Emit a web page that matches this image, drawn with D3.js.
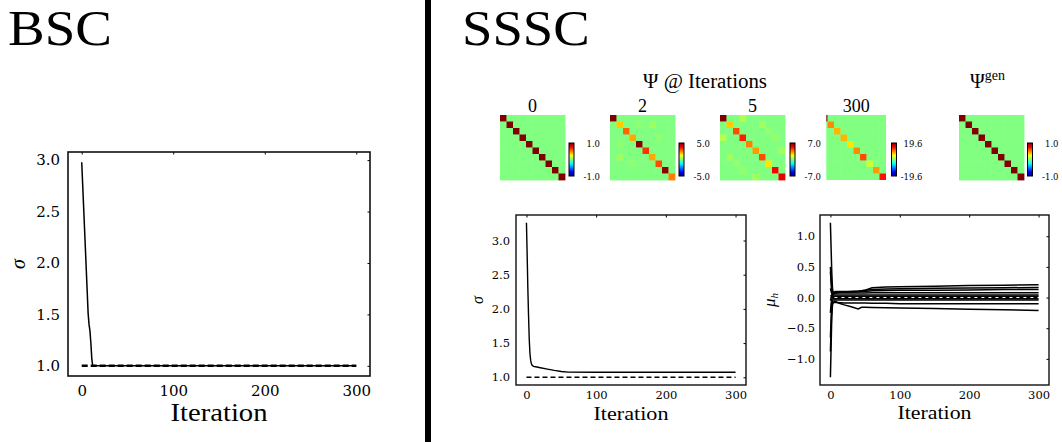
<!DOCTYPE html>
<html><head><meta charset="utf-8">
<script src="https://cdn.jsdelivr.net/npm/d3@7"></script>
<style>
html,body{margin:0;padding:0;background:#fff;}
svg{display:block;}
</style></head><body>
<svg id="c" width="1062" height="442"></svg>
<script>
// ---------------- DATA ----------------
const xTicks = [0, 100, 200, 300];
const sigmaTicks = [1.0, 1.5, 2.0, 2.5, 3.0];
const muTicks = [-1.0, -0.5, 0.0, 0.5, 1.0];
const trueSigma = 1.0;
const trueMu = 0.0;

const bscIter  = [0,1,2,3,4,5,6,7,8,9,10,11,12,50,100,150,200,250,300];
const bscSigma = [2.98,2.77,2.56,2.35,2.14,1.93,1.72,1.51,1.40,1.34,1.22,1.07,1.0,1.0,1.0,1.0,1.0,1.0,1.0];

const ssscIter  = [0,1,2,3,4,5,6,7,8,10,15,20,30,40,50,60,100,150,200,250,300];
const ssscSigma = [3.26,2.8,2.3,1.9,1.56,1.35,1.25,1.2,1.18,1.16,1.15,1.14,1.12,1.10,1.085,1.075,1.073,1.073,1.073,1.073,1.073];

const muIter = [0,1,2,3,4,5,7,10,15,20,30,40,45,50,60,80,100,150,200,250,300];
const mu1  = [1.22,0.80,0.40,0.15,0.08,0.06,0.07,0.08,0.09,0.09,0.10,0.10,0.11,0.12,0.16,0.17,0.175,0.185,0.195,0.20,0.21];
const mu2  = [0.50,0.30,0.12,0.05,0.07,0.09,0.10,0.10,0.10,0.10,0.10,0.105,0.11,0.12,0.13,0.14,0.145,0.15,0.155,0.16,0.165];
const mu3  = [0.42,0.25,0.10,0.04,0.05,0.07,0.08,0.09,0.09,0.09,0.09,0.095,0.10,0.10,0.11,0.115,0.12,0.12,0.125,0.13,0.13];
const mu4  = [0.15,0.10,0.06,0.06,0.07,0.07,0.07,0.075,0.075,0.075,0.075,0.075,0.075,0.076,0.077,0.078,0.078,0.079,0.08,0.08,0.08];
const mu5  = [0.02,0.03,0.04,0.04,0.04,0.04,0.04,0.04,0.04,0.04,0.04,0.04,0.04,0.04,0.04,0.04,0.04,0.04,0.04,0.04,0.04];
const mu6  = [-0.05,-0.01,0.02,0.02,0.02,0.02,0.02,0.02,0.02,0.02,0.02,0.02,0.02,0.02,0.02,0.02,0.02,0.02,0.02,0.02,0.02];
const mu7  = [-0.25,-0.10,-0.03,-0.02,-0.02,-0.02,-0.02,-0.02,-0.02,-0.02,-0.02,-0.02,-0.02,-0.02,-0.02,-0.02,-0.02,-0.02,-0.02,-0.02,-0.02];
const mu8  = [-0.65,-0.35,-0.10,-0.05,-0.04,-0.04,-0.04,-0.04,-0.04,-0.04,-0.04,-0.04,-0.04,-0.04,-0.04,-0.04,-0.04,-0.04,-0.04,-0.04,-0.04];
const mu9  = [-0.88,-0.50,-0.20,-0.10,-0.08,-0.08,-0.08,-0.08,-0.085,-0.09,-0.09,-0.09,-0.09,-0.09,-0.095,-0.095,-0.10,-0.10,-0.10,-0.10,-0.10];
const mu10 = [-1.30,-0.80,-0.30,-0.12,-0.08,-0.07,-0.06,-0.08,-0.10,-0.12,-0.15,-0.185,-0.16,-0.16,-0.162,-0.165,-0.17,-0.18,-0.19,-0.20,-0.21];
const muSeries = [mu1, mu2, mu3, mu4, mu5, mu6, mu7, mu8, mu9, mu10];

const hmTitles = ["0", "2", "5", "300"];
const cbMax = [1.0, 5.0, 7.0, 19.6, 1.0];
const psi0Diag   = [1,1,1,1,1,1,1,1,1,1];
const psi2Diag   = [5.0,1.75,2.75,2.1,4.9,3.25,2.1,3.0,4.8,2.5];
const psi2Off    = [[1,6,0.3],[4,1,0.15],[3,7,0.15]];
const psi5Diag   = [7.0,2.45,4.2,4.9,3.5,3.15,4.2,2.1,5.25,5.6];
const psi5Off    = [[0,3,0.75],[1,6,0.45],[5,9,0.45],[2,7,0.25],[3,8,0.3]];
const psi300Diag = [19.6,9.4,7.8,7.8,5.9,9.4,11.8,2.9,8.8,14.1];
const psiGenDiag = [1,1,1,1,1,1,1,1,1,1];

// ---------------- DRAW ----------------
const svg = d3.select("#c");
const SERIF = "Liberation Serif";
const TICKF = "DejaVu Serif";

svg.append("rect").attr("x",425).attr("y",0).attr("width",6).attr("height",442).attr("fill","#000");

svg.append("text").attr("transform","translate(8,45) scale(1.1,1)").attr("font-family",SERIF).attr("font-size",50)
  .text("BSC");
svg.append("text").attr("transform","translate(462,45) scale(1.094,1)").attr("font-family",SERIF).attr("font-size",50)
  .text("SSSC");

function pad(ext){ const r = ext[1]-ext[0]; return [ext[0]-0.05*r, ext[1]+0.05*r]; }

function panel(cfg){
  const g = svg.append("g");
  const x = d3.scaleLinear().domain(pad([0,300])).range([cfg.x0, cfg.x1]);
  const y = d3.scaleLinear().domain(pad(cfg.yext)).range([cfg.y1, cfg.y0]);
  const ax = g.append("g").attr("transform",`translate(0,${cfg.y1})`)
    .call(d3.axisBottom(x).tickValues(xTicks).tickSize(0).tickPadding(cfg.xpad).tickFormat(d3.format("d")));
  ax.select(".domain").remove();
  ax.selectAll("text").attr("font-family",TICKF).attr("font-size",cfg.fs).attr("fill","#000");
  const ay = g.append("g").attr("transform",`translate(${cfg.x0},0)`)
    .call(d3.axisLeft(y).tickValues(cfg.yticks).tickSize(0).tickPadding(cfg.ypad).tickFormat(d3.format(".1f")));
  ay.select(".domain").remove();
  ay.selectAll("text").attr("font-family",TICKF).attr("font-size",cfg.fs).attr("fill","#000");
  const at = g.append("g").attr("transform",`translate(0,${cfg.y0})`)
    .call(d3.axisTop(x).tickValues(xTicks).tickSize(-2.5).tickFormat(""));
  at.select(".domain").remove();
  at.selectAll("line").attr("stroke","#000");
  const ar = g.append("g").attr("transform",`translate(${cfg.x1},0)`)
    .call(d3.axisRight(y).tickValues(cfg.yticks).tickSize(-2.5).tickFormat(""));
  ar.select(".domain").remove();
  ar.selectAll("line").attr("stroke","#000");
  g.append("rect").attr("x",cfg.x0).attr("y",cfg.y0).attr("width",cfg.x1-cfg.x0).attr("height",cfg.y1-cfg.y0)
    .attr("fill","none").attr("stroke","#111").attr("stroke-width",cfg.frameW);
  g.append("text").attr("x",(cfg.x0+cfg.x1)/2).attr("y",cfg.xlabY).attr("text-anchor","middle")
    .attr("font-family",SERIF).attr("font-size",cfg.xlabFs).attr("textLength",cfg.xlabW).attr("lengthAdjust","spacingAndGlyphs")
    .text("Iteration");
  return {g, x, y};
}

// BSC sigma
{
  const p = panel({x0:68,x1:370,y0:152,y1:376,yext:[1.0,2.98],yticks:sigmaTicks,fs:15,xpad:9,ypad:8,
    frameW:1.6,xlabY:421,xlabFs:26,xlabW:97});
  const line = d3.line().x(d=>p.x(d[0])).y(d=>p.y(d[1]));
  p.g.append("path").datum(bscIter.map((d,i)=>[d,bscSigma[i]])).attr("d",line)
    .attr("fill","none").attr("stroke","#000").attr("stroke-width",1.5);
  p.g.append("path").datum([[0,trueSigma],[300,trueSigma]]).attr("d",line)
    .attr("fill","none").attr("stroke","#000").attr("stroke-width",2.6).attr("stroke-dasharray","6,3");
  p.g.append("text").attr("transform","translate(25,264) rotate(-90)").attr("text-anchor","middle")
    .attr("font-family",SERIF).attr("font-style","italic").attr("font-size",20).text("σ");
}

// SSSC sigma
{
  const p = panel({x0:516,x1:746,y0:215,y1:385,yext:[1.0,3.26],yticks:sigmaTicks,fs:11.5,xpad:6,ypad:6,
    frameW:1.4,xlabY:420,xlabFs:19,xlabW:75});
  const line = d3.line().x(d=>p.x(d[0])).y(d=>p.y(d[1]));
  p.g.append("path").datum([[0,trueSigma],[300,trueSigma]]).attr("d",line)
    .attr("fill","none").attr("stroke","#000").attr("stroke-width",1.3).attr("stroke-dasharray","5,3");
  p.g.append("path").datum(ssscIter.map((d,i)=>[d,ssscSigma[i]])).attr("d",line)
    .attr("fill","none").attr("stroke","#000").attr("stroke-width",1.4);
  p.g.append("text").attr("transform","translate(483,300) rotate(-90)").attr("text-anchor","middle")
    .attr("font-family",SERIF).attr("font-style","italic").attr("font-size",16).text("σ");
}

// SSSC mu
{
  const all = muSeries.flat();
  const p = panel({x0:820,x1:1049,y0:215,y1:385,yext:[d3.min(all),d3.max(all)],yticks:muTicks,fs:11.5,xpad:6,ypad:5,
    frameW:1.4,xlabY:419,xlabFs:19,xlabW:74});
  const line = d3.line().x(d=>p.x(d[0])).y(d=>p.y(d[1]));
  muSeries.forEach(s=>{
    p.g.append("path").datum(muIter.map((d,i)=>[d,s[i]])).attr("d",line)
      .attr("fill","none").attr("stroke","#000").attr("stroke-width",1.5);
  });
  p.g.append("path").datum([[0,trueMu],[300,trueMu]]).attr("d",line)
    .attr("fill","none").attr("stroke","#000").attr("stroke-width",1.3).attr("stroke-dasharray","4,3");
  const t = p.g.append("text").attr("transform","translate(775,300) rotate(-90)").attr("text-anchor","middle")
    .attr("font-family",SERIF).attr("font-style","italic").attr("font-size",17);
  t.append("tspan").text("μ");
  t.append("tspan").attr("font-size",11).attr("dy",3).text("h");
}

// ---------------- HEATMAPS ----------------
const jet = t => { const c = v => Math.max(0, Math.min(1, v));
  return d3.rgb(255*c(1.5-Math.abs(4*t-3)), 255*c(1.5-Math.abs(4*t-2)), 255*c(1.5-Math.abs(4*t-1))).toString(); };

function buildMatrix(diag, off){
  const m = d3.range(10).map(i=>d3.range(10).map(j=> i===j ? diag[i] : 0));
  (off||[]).forEach(([i,j,v])=>{ m[i][j]=v; m[j][i]=v; });
  return m;
}
const matrices = [
  buildMatrix(psi0Diag), buildMatrix(psi2Diag, psi2Off), buildMatrix(psi5Diag, psi5Off),
  buildMatrix(psi300Diag), buildMatrix(psiGenDiag)
];
const hmX = [500, 610, 720, 821, 959];
const hmY = 115, hmS = 65;
const cbX = [569, 679, 790, 891.5, 1027.5];
const cbY0 = 143, cbY1 = 176, cbW = 5;

const defs = svg.append("defs");
const gr = defs.append("linearGradient").attr("id","jetg").attr("x1",0).attr("y1",1).attr("x2",0).attr("y2",0);
d3.range(0,1.0001,0.0625).forEach(t=>gr.append("stop").attr("offset",t).attr("stop-color",jet(t)));
defs.append("clipPath").attr("id","clip300").append("rect")
  .attr("x",826.3).attr("y",hmY).attr("width",886-826.3).attr("height",hmS);

matrices.forEach((m,k)=>{
  const g = svg.append("g");
  if (k===3) g.attr("clip-path","url(#clip300)");
  const bx = d3.scaleBand().domain(d3.range(10)).range([hmX[k], hmX[k]+hmS]);
  const by = d3.scaleBand().domain(d3.range(10)).range([hmY, hmY+hmS]);
  const col = d3.scaleSequential(jet).domain([-cbMax[k], cbMax[k]]);
  const cells = [];
  m.forEach((row,i)=>row.forEach((v,j)=>cells.push({i,j,v})));
  g.selectAll("rect").data(cells).join("rect")
    .attr("x",d=>bx(d.j)).attr("y",d=>by(d.i))
    .attr("width",bx.bandwidth()+0.4).attr("height",by.bandwidth()+0.4)
    .attr("fill",d=>col(d.v));
  svg.append("rect").attr("x",cbX[k]).attr("y",cbY0).attr("width",cbW).attr("height",cbY1-cbY0)
    .attr("fill","url(#jetg)").attr("stroke","#000").attr("stroke-width",1);
  svg.append("text").attr("x",cbX[k]+31).attr("y",cbY0+4).attr("text-anchor","end")
    .attr("font-family",TICKF).attr("font-size",8.5).text(cbMax[k].toFixed(1));
  svg.append("text").attr("x",cbX[k]+31).attr("y",cbY1+3.5).attr("text-anchor","end")
    .attr("font-family",TICKF).attr("font-size",8.5).text((-cbMax[k]).toFixed(1));
  if (k<4){
    const cx = k===3 ? (826.3+886)/2 : hmX[k]+hmS/2;
    svg.append("text").attr("x",cx).attr("y",112).attr("text-anchor","middle")
      .attr("font-family",SERIF).attr("font-size",18).text(hmTitles[k]);
  }
});

svg.append("text").attr("x",705).attr("y",88).attr("text-anchor","middle")
  .attr("font-family",SERIF).attr("font-size",20).attr("textLength",124).attr("lengthAdjust","spacingAndGlyphs")
  .text("Ψ @ Iterations");
const tg = svg.append("text").attr("x",970).attr("y",88).attr("font-family",SERIF).attr("font-size",20);
tg.append("tspan").text("Ψ");
tg.append("tspan").attr("font-size",14).attr("dy",-8).text("gen");
</script>
</body></html>
